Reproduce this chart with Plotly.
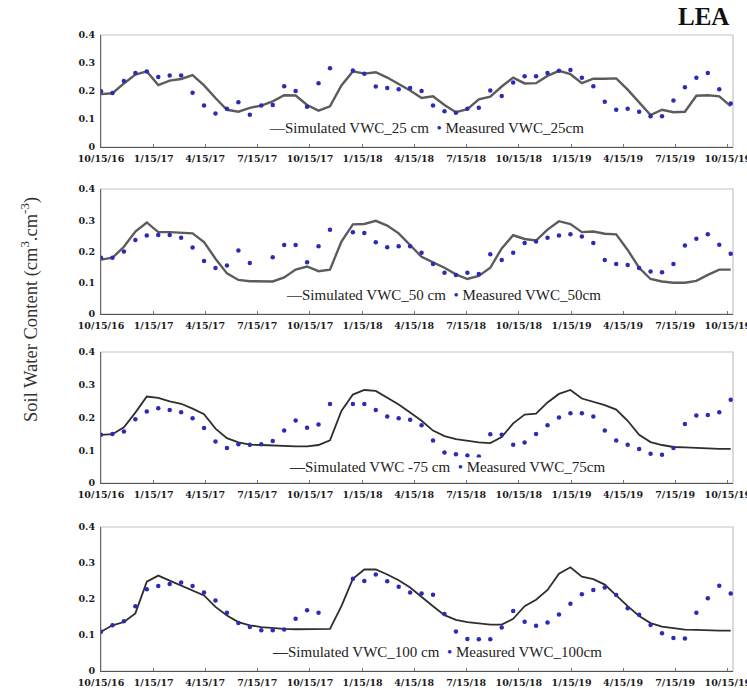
import plotly.graph_objects as go
from plotly.subplots import make_subplots

# ---------------- data ----------------
dates = ["2016-10-15", "2016-11-04", "2016-11-24", "2016-12-14", "2017-01-03", "2017-01-23",
         "2017-02-12", "2017-03-04", "2017-03-24", "2017-04-13", "2017-05-03", "2017-05-23",
         "2017-06-12", "2017-07-02", "2017-07-22", "2017-08-11", "2017-08-31", "2017-09-20",
         "2017-10-10", "2017-10-30", "2017-11-19", "2017-12-09", "2017-12-29", "2018-01-18",
         "2018-02-07", "2018-02-27", "2018-03-19", "2018-04-08", "2018-04-28", "2018-05-18",
         "2018-06-07", "2018-06-27", "2018-07-17", "2018-08-06", "2018-08-26", "2018-09-15",
         "2018-10-05", "2018-10-25", "2018-11-14", "2018-12-04", "2018-12-24", "2019-01-13",
         "2019-02-02", "2019-02-22", "2019-03-14", "2019-04-03", "2019-04-23", "2019-05-13",
         "2019-06-02", "2019-06-22", "2019-07-12", "2019-08-01", "2019-08-21", "2019-09-10",
         "2019-09-30", "2019-10-20"]

sim_25 = [0.189, 0.192, 0.227, 0.259, 0.270, 0.221, 0.237, 0.243, 0.257, 0.220, 0.175, 0.133,
          0.126, 0.140, 0.148, 0.163, 0.185, 0.184, 0.150, 0.130, 0.145, 0.220, 0.270, 0.262,
          0.267, 0.248, 0.225, 0.202, 0.175, 0.181, 0.150, 0.124, 0.135, 0.170, 0.180, 0.216,
          0.248, 0.227, 0.228, 0.254, 0.272, 0.260, 0.228, 0.244, 0.244, 0.245, 0.205, 0.160,
          0.114, 0.133, 0.124, 0.126, 0.183, 0.185, 0.181, 0.146]
meas_25 = [0.199, 0.193, 0.236, 0.264, 0.270, 0.250, 0.255, 0.255, 0.194, 0.148, 0.120, 0.137,
           0.160, 0.115, 0.148, 0.150, 0.217, 0.200, 0.144, 0.228, 0.281, None, 0.273, 0.262,
           0.216, 0.211, 0.206, 0.211, 0.200, 0.148, 0.128, 0.122, 0.137, 0.140, 0.202, 0.182,
           0.230, 0.253, 0.253, 0.264, 0.272, 0.275, 0.247, 0.217, 0.162, 0.133, 0.137, 0.126,
           0.110, 0.110, 0.166, 0.213, 0.247, 0.264, 0.206, 0.155]

sim_50 = [0.174, 0.180, 0.215, 0.264, 0.293, 0.262, 0.262, 0.260, 0.258, 0.230, 0.177, 0.130,
          0.109, 0.105, 0.105, 0.104, 0.117, 0.142, 0.152, 0.137, 0.142, 0.232, 0.287, 0.288,
          0.298, 0.283, 0.258, 0.219, 0.183, 0.165, 0.148, 0.127, 0.112, 0.122, 0.148, 0.210,
          0.252, 0.240, 0.235, 0.270, 0.297, 0.288, 0.262, 0.264, 0.257, 0.255, 0.205, 0.148,
          0.112, 0.104, 0.100, 0.100, 0.106, 0.125, 0.142, 0.142]
meas_50 = [0.180, 0.180, 0.200, 0.237, 0.251, 0.253, 0.253, 0.244, 0.213, 0.170, 0.147, 0.155,
           0.203, 0.163, None, 0.182, 0.221, 0.221, 0.166, 0.217, 0.270, None, 0.262, 0.259,
           0.230, 0.214, 0.217, 0.217, 0.196, 0.160, 0.132, 0.125, 0.132, 0.128, 0.191, 0.173,
           0.196, 0.227, 0.232, 0.244, 0.251, 0.255, 0.248, 0.227, 0.173, 0.160, 0.157, 0.147,
           0.136, 0.134, 0.160, 0.219, 0.241, 0.255, 0.222, 0.193]

sim_75 = [0.147, 0.149, 0.170, 0.215, 0.264, 0.260, 0.249, 0.242, 0.227, 0.210, 0.166, 0.137,
          0.124, 0.117, 0.116, 0.114, 0.112, 0.112, 0.112, 0.116, 0.130, 0.220, 0.270, 0.284,
          0.281, 0.260, 0.240, 0.215, 0.190, 0.160, 0.143, 0.134, 0.129, 0.124, 0.122, 0.140,
          0.182, 0.209, 0.212, 0.246, 0.272, 0.284, 0.258, 0.248, 0.238, 0.224, 0.190, 0.147,
          0.125, 0.116, 0.110, 0.109, 0.107, 0.104, 0.104, 0.104]
meas_75 = [0.147, 0.150, 0.157, 0.195, 0.218, 0.228, 0.223, 0.216, 0.198, 0.168, 0.127, 0.107,
           0.118, 0.117, 0.118, 0.128, 0.160, 0.191, 0.169, 0.179, 0.241, None, 0.241, 0.241,
           0.223, 0.203, 0.198, 0.193, 0.176, 0.130, 0.093, 0.088, 0.084, 0.081, 0.149, 0.147,
           0.117, 0.124, 0.150, 0.176, 0.200, 0.213, 0.213, 0.203, 0.160, 0.130, 0.117, 0.104,
           0.089, 0.086, 0.107, 0.180, 0.206, 0.208, 0.216, 0.254]

sim_100 = [0.109, 0.127, 0.136, 0.160, 0.248, 0.265, 0.251, 0.238, 0.224, 0.210, 0.178, 0.154,
           0.136, 0.127, 0.122, 0.119, 0.117, 0.116, 0.116, 0.116, 0.117, 0.180, 0.256, 0.282,
           0.282, 0.268, 0.252, 0.232, 0.205, 0.180, 0.155, 0.142, 0.136, 0.132, 0.129, 0.129,
           0.145, 0.180, 0.198, 0.225, 0.270, 0.288, 0.262, 0.255, 0.240, 0.210, 0.180, 0.153,
           0.133, 0.123, 0.118, 0.115, 0.114, 0.112, 0.112, 0.112]
meas_100 = [0.109, 0.127, 0.138, 0.180, 0.227, 0.236, 0.242, 0.246, 0.236, 0.218, 0.196, 0.162,
            0.133, 0.122, 0.113, 0.113, 0.115, 0.145, 0.169, 0.162, None, None, 0.256, 0.250,
            0.268, 0.249, 0.234, 0.218, 0.215, 0.212, 0.158, 0.110, 0.089, 0.088, 0.088, 0.121,
            0.167, 0.137, 0.126, 0.135, 0.157, 0.187, 0.213, 0.225, 0.232, 0.211, 0.174, 0.156,
            0.128, 0.105, 0.092, 0.090, 0.162, 0.202, 0.237, 0.215]

sim_names = ["Simulated VWC_25 cm", "Simulated VWC_50 cm", "Simulated VWC -75 cm", "Simulated VWC_100 cm"]
meas_names = ["Measured VWC_25cm", "Measured VWC_50cm", "Measured VWC_75cm", "Measured VWC_100cm"]

tick_dates = ["2016-10-15", "2017-01-15", "2017-04-15", "2017-07-15", "2017-10-15", "2018-01-15",
              "2018-04-15", "2018-07-15", "2018-10-15", "2019-01-15", "2019-04-15", "2019-07-15",
              "2019-10-15"]
tick_labels = ["10/15/16", "1/15/17", "4/15/17", "7/15/17", "10/15/17", "1/15/18", "4/15/18",
               "7/15/18", "10/15/18", "1/15/19", "4/15/19", "7/15/19", "10/15/19"]
y_ticks = [0, 0.1, 0.2, 0.3, 0.4]
y_tick_labels = ["0", "0.1", "0.2", "0.3", "0.4"]

# ---------------- layout geometry ----------------
W, H = 747, 693
ML, MR = 101, 14
panels_px = [(35, 147), (189, 314), (352, 483), (527, 671)]
legend_px = [(267, 128), (284, 295), (287, 467), (270, 652)]
line_colors = ["#5c5c5c", "#5c5c5c", "#2e2e2e", "#2e2e2e"]
line_widths = [2.4, 2.4, 1.8, 1.8]
meas_color = "#2b2bb8"

sims = [sim_25, sim_50, sim_75, sim_100]
meas = [meas_25, meas_50, meas_75, meas_100]

fig = make_subplots(rows=4, cols=1)
serif = "Liberation Serif"
tickfont = dict(family="DejaVu Serif", size=9.5, color="#1a1a1a", weight="bold")
pw = W - ML - MR
NB = "\u00a0"

for i in range(4):
    fig.add_trace(go.Scatter(x=dates, y=sims[i], mode="lines", name=sim_names[i],
                             line=dict(color=line_colors[i], width=line_widths[i]),
                             showlegend=False), row=i + 1, col=1)
    fig.add_trace(go.Scatter(x=dates, y=meas[i], mode="markers", name=meas_names[i],
                             marker=dict(color=meas_color, size=4.5, symbol="circle"),
                             showlegend=False), row=i + 1, col=1)
    top, bot = panels_px[i]
    ydom = [1 - bot / H, 1 - top / H]
    xa = "xaxis" if i == 0 else f"xaxis{i+1}"
    ya = "yaxis" if i == 0 else f"yaxis{i+1}"
    fig.layout[xa].update(domain=[0, 1], range=["2016-10-15", "2019-10-24"], type="date",
                          tickvals=tick_dates, ticktext=tick_labels, ticks="inside", ticklen=3,
                          tickcolor="#777", showgrid=False, zeroline=False, showline=True,
                          linecolor="#555", linewidth=1.3, automargin=False, tickfont=tickfont,
                          ticklabeloverflow="allow", ticklabelstandoff=2)
    fig.layout[ya].update(domain=ydom, range=[0, 0.4], tickvals=y_ticks,
                          ticktext=y_tick_labels, ticks="", ticklabelstandoff=3,
                          showgrid=False, zeroline=False, showline=True, linecolor="#666",
                          linewidth=1.2, automargin=False, tickfont=tickfont)
    xr = "x" if i == 0 else f"x{i+1}"
    yr = "y" if i == 0 else f"y{i+1}"
    fig.add_shape(type="rect", xref=f"{xr} domain", yref=f"{yr} domain", x0=0, x1=1, y0=0, y1=1,
                  line=dict(color="#c4c4c4", width=1.2), layer="below")
    # legend (line key + dot key) as real text
    lx, ly = legend_px[i]
    leg_text = (f"<span style='color:{line_colors[i]}'><b>\u2014</b></span>{sim_names[i]}"
                f"{NB}{NB}<span style='color:{meas_color}'>\u2022</span>{NB}{meas_names[i]}")
    fig.add_annotation(text=leg_text, xref="paper", yref="paper", x=(lx - ML) / pw, y=1 - ly / H,
                       xanchor="left", yanchor="middle", showarrow=False, bgcolor="white",
                       borderpad=1, font=dict(family=serif, size=15, color="#222"))

fig.add_annotation(text="Soil Water Content (cm<sup>3</sup>.cm<sup>-3</sup>)", textangle=-90,
                   xref="paper", yref="paper", x=(29 - ML) / pw, y=1 - 310 / H,
                   xanchor="center", yanchor="middle", showarrow=False,
                   font=dict(family=serif, size=18.5, color="#333"))
fig.add_annotation(text="<b>LEA</b>", xref="paper", yref="paper", x=(703 - ML) / pw, y=1 - 17 / H,
                   xanchor="center", yanchor="middle", showarrow=False,
                   font=dict(family=serif, size=25, color="#111"))

fig.update_layout(width=W, height=H, margin=dict(l=ML, r=MR, t=0, b=0),
                  paper_bgcolor="white", plot_bgcolor="white", showlegend=False)

fig.write_html("out.html")
